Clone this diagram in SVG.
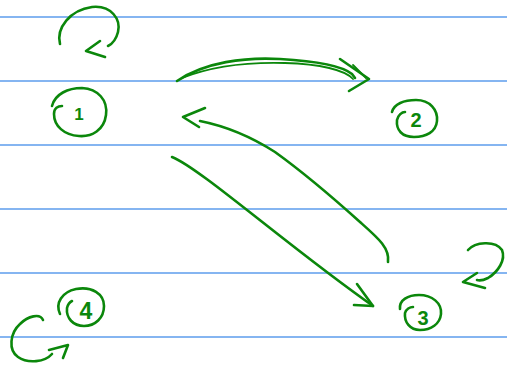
<svg xmlns="http://www.w3.org/2000/svg" width="507" height="369" viewBox="0 0 507 369">
<style>
.rule{stroke:#5d9ded;stroke-width:1.4}
.ink{fill:none;stroke:#0b870b;stroke-width:2.6;stroke-linecap:round;stroke-linejoin:round}
.thin{stroke-width:1.8}
.num{fill:#0b870b;font-family:"Liberation Sans",Arial,sans-serif;text-anchor:middle;font-weight:bold}
</style>
<rect width="507" height="369" fill="#fff"/>
<g id="paper">
<line class="rule" x1="0" y1="17" x2="507" y2="17"/>
<line class="rule" x1="0" y1="81" x2="507" y2="81"/>
<line class="rule" x1="0" y1="145" x2="507" y2="145"/>
<line class="rule" x1="0" y1="209" x2="507" y2="209"/>
<line class="rule" x1="0" y1="273" x2="507" y2="273"/>
<line class="rule" x1="0" y1="337" x2="507" y2="337"/>
</g>
<g id="connectors">
<g id="loop1">
<path class="ink" d="M60,44 C56,28 70,10 92,7 C112,5 121,20 118,32 C116,40 112,44 108,46"/>
<path class="ink" d="M100,41 L86,51 L105,57"/>
</g>
<g id="e1-2">
<path class="ink" d="M177,81 C205,62 245,57 280,59 C315,61 342,66 352,74 L355,78"/>
<path class="ink thin" d="M182,78 C212,66 250,62 285,63 C320,64 345,70 353,79"/>
<path class="ink" d="M340,59 L369,79 L349,91"/>
<path class="ink thin" d="M353,65 L366,78"/>
</g>
<g id="e3-1">
<path class="ink" d="M388,262 C390,248 378,238 360,222 C330,195 300,170 275,152 C250,136 225,126 200,121"/>
<path class="ink" d="M205,108 L183,117 L199,127"/>
</g>
<g id="e1-3">
<path class="ink" d="M172,157 C200,168 290,248 373,306"/>
<path class="ink" d="M357,284 L373,306 L354,305"/>
</g>
<g id="loop3">
<path class="ink" d="M468,250 C475,242 495,240 502,250 C506,260 498,272 488,278 C484,280 480,281 477,280"/>
<path class="ink" d="M477,273 L463,282 L485,288"/>
</g>
<g id="loop4">
<path class="ink" d="M43,320 C40,313 28,316 20,324 C10,333 8,350 18,357 C28,364 45,362 52,354"/>
<path class="ink" d="M49,350 L68,345 L63,358"/>
</g>
</g>
<g id="node1">
<path class="ink" d="M52,106 C55,94 68,88 82,88 C98,89 108,100 106,115 C104,130 92,137 79,136 C64,135 54,126 54,114 C54,108 58,106 62,106"/>
<text class="num" x="79" y="120" font-size="17">1</text>
</g>
<g id="node2">
<path class="ink" d="M392,112 C394,104 404,100 416,100 C430,100 438,110 437,121 C436,132 426,137 414,137 C402,137 396,130 397,120 C398,115 402,112 405,112"/>
<text class="num" x="416" y="127" font-size="20">2</text>
</g>
<g id="node3">
<path class="ink" d="M400,309 C399,300 408,295 419,295 C432,295 442,303 441,314 C440,324 431,330 420,330 C410,330 404,322 405,313 C406,309 410,307 413,307"/>
<text class="num" x="423" y="325" font-size="20">3</text>
</g>
<g id="node4">
<path class="ink" d="M60,314 C55,303 62,292 76,289 C92,286 104,294 104,306 C104,318 95,326 84,326 C73,326 66,318 67,308 C68,304 70,302 72,301"/>
<text class="num" x="86" y="319" font-size="23">4</text>
</g>
</svg>
